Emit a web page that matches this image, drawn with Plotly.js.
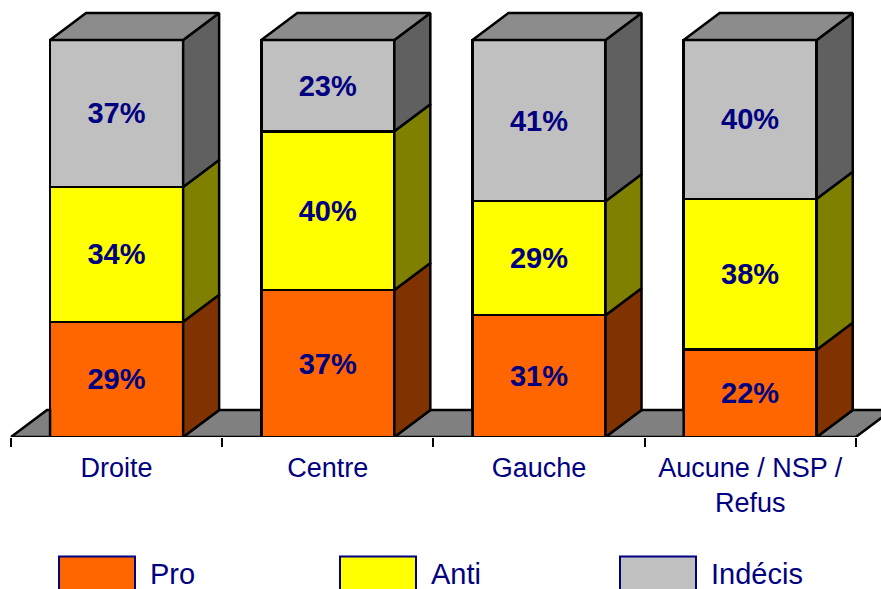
<!DOCTYPE html>
<html>
<head>
<meta charset="utf-8">
<script src="https://cdn.plot.ly/plotly-3.0.1.min.js"></script>
<style>html,body{margin:0;padding:0;background:#fff;overflow:hidden}#c{width:881px;height:589px}</style>
</head>
<body>
<div id="c"></div>
<script>
var categories = ['Droite', 'Centre', 'Gauche', 'Aucune / NSP /<br>Refus'];
var seriesNames = ['Pro', 'Anti', 'Indécis'];
var pro = [29, 37, 31, 22];
var anti = [34, 40, 29, 38];
var indecis = [37, 23, 41, 40];
var frontColors = ['#ff6600', '#ffff00', '#c0c0c0'];
var sideColors = ['#803300', '#808000', '#606060'];
var topColor = '#8c8c8c';
var floorColor = '#808080';
var navy = '#000080';
var FONT = '"Liberation Sans", Arial, sans-serif';

var W = 881, H = 589, B = 152;
var plotH = H - B;
var catPx = 211.2;            // pixels per category
var pctPx = 3.97;             // pixels per percent
var barFrac = 0.63;
var dx = 36 / catPx;          // depth in category units
var dy = 27 / pctPx;          // depth in percent units
var edge = 2.5;
var xMin = -0.5 - 11 / catPx;
var xMax = xMin + W / catPx;
var yMax = plotH / pctPx;
var last = categories.length - 0.5;

var values = [pro, anti, indecis];
var totals = categories.map(function (_, i) { return pro[i] + anti[i] + indecis[i]; });

var traces = [];
values.forEach(function (v, s) {
  traces.push({
    type: 'bar', name: seriesNames[s], x: categories, y: v,
    marker: {color: frontColors[s], line: {color: '#000', width: edge}},
    text: v.map(function (n) { return n + '%'; }),
    textposition: 'inside', insidetextanchor: 'middle', textangle: 0,
    constraintext: 'none',
    textfont: {family: FONT, size: 29, color: navy, weight: 700},
    hoverinfo: 'skip', showlegend: false
  });
});

function poly(xs, ys, color) {
  traces.push({
    type: 'scatter', mode: 'lines', xaxis: 'x2', yaxis: 'y', x: xs, y: ys,
    fill: 'toself', fillcolor: color,
    line: {color: '#000', width: edge}, hoverinfo: 'skip', showlegend: false
  });
}

// Floor pieces visible between the bars
for (var k = 0; k <= categories.length; k++) {
  var left = k === 0 ? -0.5 : (k - 1) + barFrac / 2;
  var atEnd = k === categories.length;
  var right = atEnd ? last : k - barFrac / 2;
  var rightBack = atEnd ? last + dx : right;
  poly([left, right, rightBack, left + dx, left], [0, 0, dy, dy, 0], floorColor);
}

// Depth faces computed from the normalised stack
categories.forEach(function (_, i) {
  var xr = i + barFrac / 2, xl = i - barFrac / 2, base = 0;
  values.forEach(function (v, s) {
    var h = v[i] / totals[i] * 100;
    poly([xr, xr + dx, xr + dx, xr, xr],
         [base, base + dy, base + h + dy, base + h, base], sideColors[s]);
    base += h;
  });
  poly([xl, xr, xr + dx, xl + dx, xl], [100, 100, 100 + dy, 100 + dy, 100], topColor);
});

// Legend, placed in page coordinates
var legendX = [59, 340, 620];
var legendW = 76;
function px(x) { return x / W; }
function py(y) { return (plotH - y) / plotH; }
var shapes = [], annotations = [];
seriesNames.forEach(function (n, s) {
  var x0 = legendX[s];
  shapes.push({type: 'rect', xref: 'paper', yref: 'paper', x0: px(x0), x1: px(x0 + legendW),
    y0: py(596), y1: py(556.5), fillcolor: frontColors[s], line: {color: navy, width: 2}});
  annotations.push({xref: 'paper', yref: 'paper', x: px(x0 + legendW + 12.5), y: py(574),
    xanchor: 'left', yanchor: 'middle', showarrow: false, text: n,
    font: {family: FONT, size: 29, color: navy}});
});

var layout = {
  width: W, height: H,
  margin: {l: 0, r: 0, t: 0, b: B, pad: 0},
  paper_bgcolor: '#fff', plot_bgcolor: '#fff',
  barmode: 'stack', barnorm: 'percent', bargap: 1 - barFrac,
  showlegend: false,
  xaxis: {
    type: 'category', categoryorder: 'array', categoryarray: categories,
    range: [xMin, xMax], fixedrange: true,
    showgrid: false, zeroline: false, showline: false,
    ticks: 'outside', ticklen: 9, tickwidth: 2, tickcolor: '#000', tickson: 'boundaries',
    tickangle: 0, ticklabelstandoff: 12, tickfont: {family: FONT, size: 27, color: navy}
  },
  xaxis2: {
    type: 'linear', overlaying: 'x', anchor: 'y', side: 'bottom',
    range: [xMin, xMax], fixedrange: true, visible: false
  },
  yaxis: {range: [0, yMax], visible: false, fixedrange: true},
  shapes: shapes,
  annotations: annotations
};
Plotly.newPlot('c', traces, layout, {displayModeBar: false, staticPlot: true});
</script>
</body>
</html>
